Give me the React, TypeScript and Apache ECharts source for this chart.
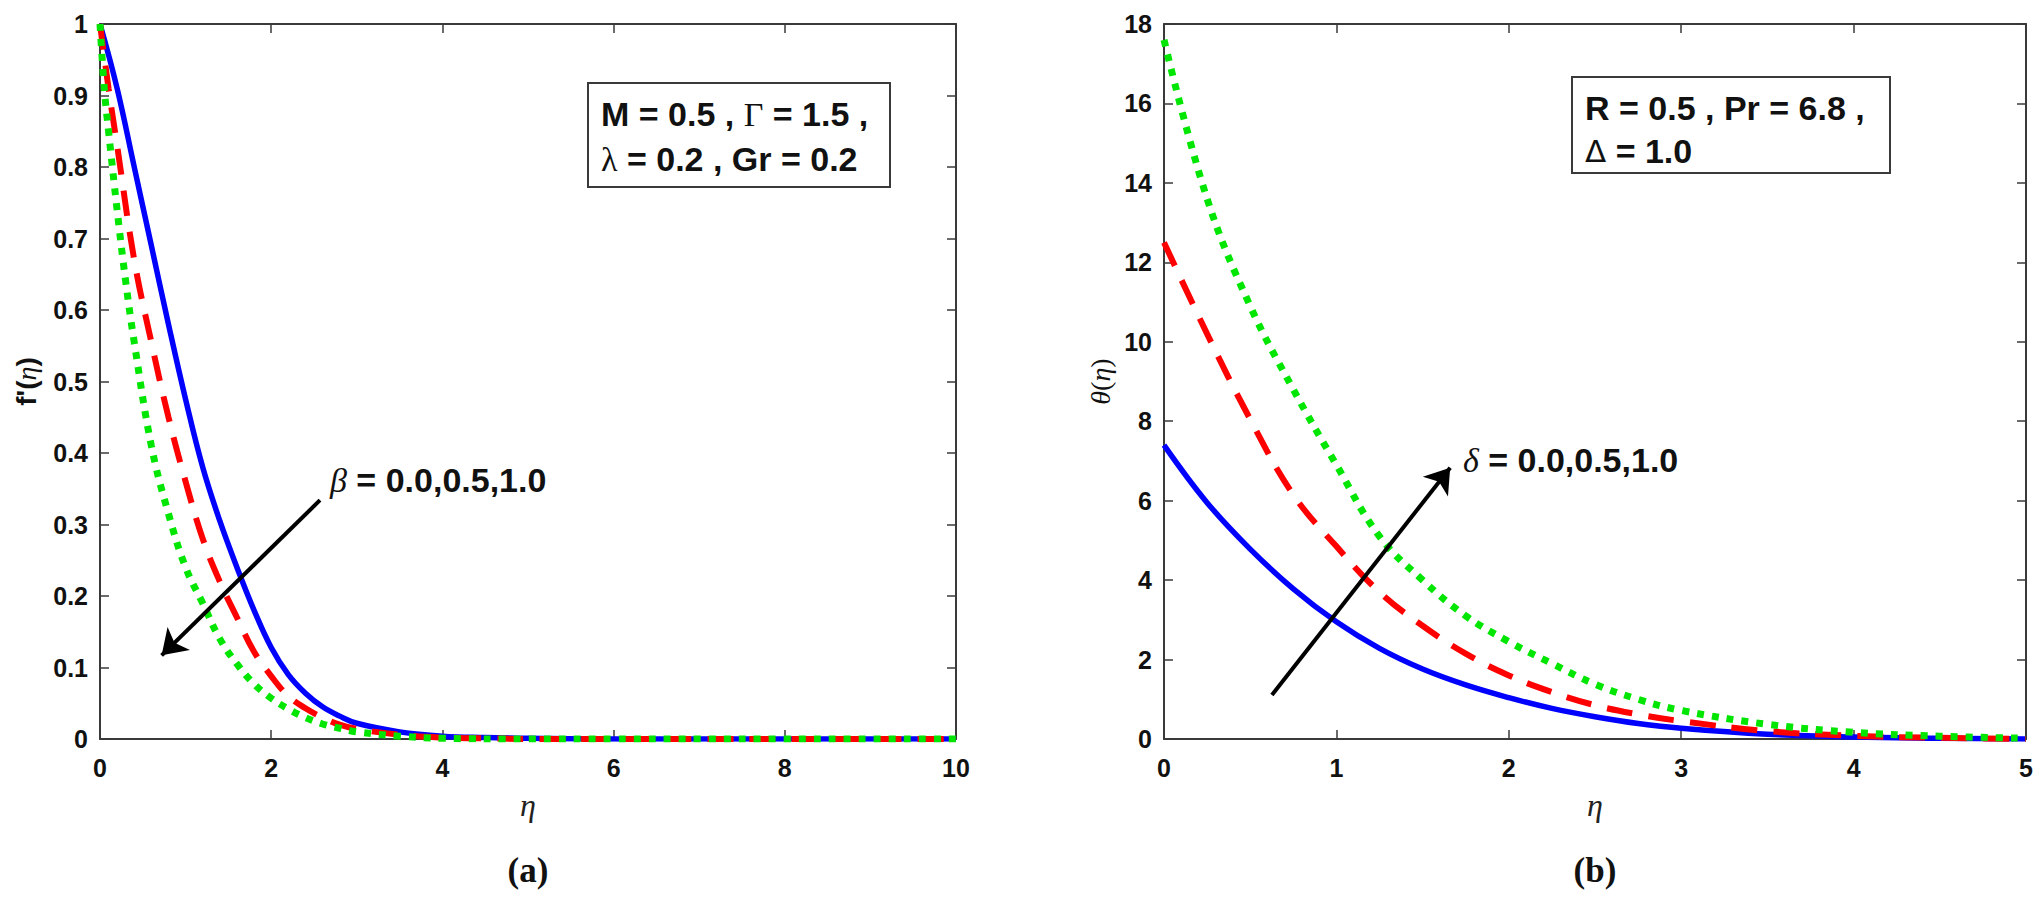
import React, { useEffect, useRef } from "react";
import * as echarts from "echarts";

// ---------- Panel (a): f'(eta) for beta = 0.0, 0.5, 1.0 ----------
const A_X_TICKS = { min: 0, max: 10, interval: 2 };
const A_Y_TICKS = { min: 0, max: 1, interval: 0.1 };

const A_BLUE_ETA = [0, 0.2, 0.4, 0.6, 0.8, 1.0, 1.2, 1.4, 1.6, 1.8, 2.0, 2.2, 2.4, 2.6, 2.8, 3.0, 3.5, 4.0, 4.5, 5.0, 6, 7, 8, 9, 10];
const A_BLUE_F = [1.0, 0.91, 0.8, 0.69, 0.58, 0.475, 0.38, 0.305, 0.24, 0.18, 0.128, 0.09, 0.064, 0.045, 0.032, 0.022, 0.01, 0.004, 0.002, 0.001, 0, 0, 0, 0, 0];

const A_RED_ETA = [0, 0.1, 0.2, 0.4, 0.6, 0.8, 1.0, 1.2, 1.4, 1.6, 1.8, 2.0, 2.2, 2.4, 2.6, 2.8, 3.0, 3.5, 4.0, 4.5, 5.0, 6, 7, 8, 9, 10];
const A_RED_F = [1.0, 0.91, 0.83, 0.67, 0.555, 0.45, 0.36, 0.28, 0.22, 0.17, 0.122, 0.088, 0.06, 0.043, 0.03, 0.02, 0.014, 0.006, 0.002, 0.001, 0, 0, 0, 0, 0, 0];

const A_GREEN_ETA = [0, 0.05, 0.1, 0.2, 0.3, 0.4, 0.6, 0.8, 1.0, 1.2, 1.4, 1.6, 1.8, 2.0, 2.2, 2.4, 2.6, 2.8, 3.0, 3.5, 4.0, 5.0, 6, 7, 8, 9, 10];
const A_GREEN_F = [1.0, 0.91, 0.85, 0.74, 0.64, 0.555, 0.41, 0.315, 0.24, 0.19, 0.14, 0.105, 0.077, 0.057, 0.042, 0.03, 0.021, 0.015, 0.01, 0.004, 0.001, 0, 0, 0, 0, 0, 0];

const A_ARROW = [[2.57, 0.334], [0.72, 0.117]];

// ---------- Panel (b): theta(eta) for delta = 0.0, 0.5, 1.0 ----------
const B_X_TICKS = { min: 0, max: 5, interval: 1 };
const B_Y_TICKS = { min: 0, max: 18, interval: 2 };

const B_ETA = [0, 0.25, 0.5, 0.75, 1.0, 1.25, 1.5, 1.75, 2.0, 2.25, 2.5, 2.75, 3.0, 3.5, 4.0, 4.5, 5.0];
const B_BLUE = [7.4, 5.95, 4.78, 3.78, 2.95, 2.28, 1.76, 1.36, 1.04, 0.77, 0.56, 0.39, 0.27, 0.12, 0.05, 0.02, 0.0];
const B_RED = [12.5, 10.2, 8.05, 6.15, 4.85, 3.7, 2.85, 2.15, 1.6, 1.18, 0.85, 0.62, 0.45, 0.2, 0.08, 0.03, 0.0];
const B_GREEN = [17.6, 13.6, 10.9, 8.8, 6.9, 5.1, 4.0, 3.1, 2.45, 1.9, 1.38, 1.0, 0.72, 0.37, 0.17, 0.07, 0.02];

const B_ARROW = [[0.626, 1.11], [1.66, 6.83]];

const BLUE = "#0000ff";
const RED = "#ff0000";
const GREEN = "#00e600";
const AXIS = "#3a3a3a";
const SANS = "'Liberation Sans', Arial, sans-serif";
const SERIF = "'Liberation Serif', 'Times New Roman', serif";

function zip(xs: number[], ys: number[]) {
  return xs.map((x, i) => [x, ys[i]]);
}

function axisPair(gridIndex: number, ticks: any, dir: "x" | "y", name: any) {
  const common = {
    type: "value",
    gridIndex,
    min: ticks.min,
    max: ticks.max,
    interval: ticks.interval,
    splitLine: { show: false },
    axisLine: { show: true, onZero: false, lineStyle: { color: AXIS, width: 2 } },
    axisTick: { show: true, inside: true, length: 9, lineStyle: { color: AXIS, width: 1.5 } },
  };
  const main: any = {
    ...common,
    position: dir === "x" ? "bottom" : "left",
    axisLabel: {
      show: true,
      color: "#111",
      fontFamily: SANS,
      fontWeight: "bold",
      fontSize: 25,
      margin: dir === "x" ? 16 : 12,
    },
    ...name,
  };
  const opp: any = {
    ...common,
    position: dir === "x" ? "top" : "right",
    axisLabel: { show: false },
  };
  return [main, opp];
}

const legendRich = {
  b: { fontFamily: SANS, fontWeight: "bold", fontSize: 34, fill: "#111" },
  g: { fontFamily: SERIF, fontSize: 34, fill: "#111" },
  i: { fontFamily: SERIF, fontStyle: "italic", fontSize: 34, fill: "#111" },
  d: { fontFamily: "'DejaVu Sans', sans-serif", fontSize: 31, fill: "#111" },
};

export default function App() {
  const ref = useRef<HTMLDivElement>(null);

  useEffect(() => {
    if (!ref.current) return;
    const chart = echarts.init(ref.current, null, { renderer: "svg" });

    const etaName = {
      name: "{i|η}",
      nameLocation: "middle",
      nameGap: 50,
      nameTextStyle: { rich: { i: { fontFamily: SERIF, fontStyle: "italic", fontSize: 32, color: "#222" } } },
    };
    const [ax0, ax0t] = axisPair(0, A_X_TICKS, "x", etaName);
    const [ay0, ay0r] = axisPair(0, A_Y_TICKS, "y", {
      name: "{b|f'(}{i|η}{b|)}",
      nameLocation: "middle",
      nameGap: 60,
      nameTextStyle: {
        rich: {
          b: { fontFamily: SANS, fontWeight: "bold", fontSize: 28, color: "#111" },
          i: { fontFamily: SERIF, fontStyle: "italic", fontSize: 28, color: "#111" },
        },
      },
    });
    const [ax1, ax1t] = axisPair(1, B_X_TICKS, "x", etaName);
    const [ay1, ay1r] = axisPair(1, B_Y_TICKS, "y", {
      name: "{i|θ}{b|(}{i|η}{b|)}",
      nameLocation: "middle",
      nameGap: 50,
      nameTextStyle: {
        rich: {
          b: { fontFamily: SERIF, fontSize: 28, color: "#111" },
          i: { fontFamily: SERIF, fontStyle: "italic", fontSize: 28, color: "#111" },
        },
      },
    });

    const lineSeries = (
      name: string,
      xi: number,
      yi: number,
      data: number[][],
      color: string,
      type: any,
      width: number,
      extra: any = {}
    ) => ({
      name,
      type: "line",
      xAxisIndex: xi,
      yAxisIndex: yi,
      data,
      showSymbol: false,
      symbol: "none",
      smooth: 0.4,
      clip: true,
      lineStyle: { color, width, type, cap: "butt" },
      ...extra,
    });

    const arrowMark = (pts: number[][]) => ({
      markLine: {
        silent: true,
        animation: false,
        symbol: ["none", "arrow"],
        symbolSize: 24,
        label: { show: false },
        lineStyle: { color: "#000", width: 4, type: "solid" },
        data: [[{ coord: pts[0] }, { coord: pts[1] }]],
      },
    });

    const option: any = {
      animation: false,
      backgroundColor: "#ffffff",
      grid: [
        { left: 100, top: 24, width: 856, height: 715 },
        { left: 1164, top: 24, width: 862, height: 715 },
      ],
      xAxis: [ax0, ax0t, ax1, ax1t],
      yAxis: [ay0, ay0r, ay1, ay1r],
      series: [
        lineSeries("β = 0.0", 0, 0, zip(A_BLUE_ETA, A_BLUE_F), BLUE, "solid", 5.5),
        lineSeries("β = 0.5", 0, 0, zip(A_RED_ETA, A_RED_F), RED, [26, 16], 6),
        lineSeries("β = 1.0", 0, 0, zip(A_GREEN_ETA, A_GREEN_F), GREEN, [7, 8], 7, arrowMark(A_ARROW)),
        lineSeries("δ = 0.0", 2, 2, zip(B_ETA, B_BLUE), BLUE, "solid", 5.5),
        lineSeries("δ = 0.5", 2, 2, zip(B_ETA, B_RED), RED, [26, 16], 6),
        lineSeries("δ = 1.0", 2, 2, zip(B_ETA, B_GREEN), GREEN, [7, 8], 7, arrowMark(B_ARROW)),
      ],
      graphic: [
        {
          type: "rect",
          shape: { x: 588, y: 83, width: 302, height: 104 },
          style: { fill: "#fff", stroke: AXIS, lineWidth: 2 },
          z: 100,
        },
        {
          type: "text",
          x: 601,
          y: 114,
          z: 101,
          style: { text: "{b|M = 0.5 , }{g|Γ}{b| = 1.5 ,}", verticalAlign: "middle", rich: legendRich },
        },
        {
          type: "text",
          x: 601,
          y: 159,
          z: 101,
          style: { text: "{g|λ}{b| = 0.2 , Gr = 0.2}", verticalAlign: "middle", rich: legendRich },
        },
        {
          type: "rect",
          shape: { x: 1572, y: 77, width: 318, height: 96 },
          style: { fill: "#fff", stroke: AXIS, lineWidth: 2 },
          z: 100,
        },
        {
          type: "text",
          x: 1585,
          y: 108,
          z: 101,
          style: { text: "{b|R = 0.5 , Pr = 6.8 ,}", verticalAlign: "middle", rich: legendRich },
        },
        {
          type: "text",
          x: 1585,
          y: 151,
          z: 101,
          style: { text: "{d|Δ}{b| = 1.0}", verticalAlign: "middle", rich: legendRich },
        },
        {
          type: "text",
          x: 330,
          y: 480,
          z: 101,
          style: { text: "{i|β}{b| = 0.0,0.5,1.0}", verticalAlign: "middle", rich: legendRich },
        },
        {
          type: "text",
          x: 1463,
          y: 460,
          z: 101,
          style: { text: "{i|δ}{b| = 0.0,0.5,1.0}", verticalAlign: "middle", rich: legendRich },
        },
        {
          type: "text",
          x: 528,
          y: 870,
          style: {
            text: "(a)",
            align: "center",
            verticalAlign: "middle",
            font: "bold 35px " + SERIF,
            fill: "#111",
          },
        },
        {
          type: "text",
          x: 1595,
          y: 870,
          style: {
            text: "(b)",
            align: "center",
            verticalAlign: "middle",
            font: "bold 35px " + SERIF,
            fill: "#111",
          },
        },
      ],
    };

    chart.setOption(option);
    return () => chart.dispose();
  }, []);

  return (
    <div
      ref={ref}
      style={{ position: "absolute", left: 0, top: 0, width: 2042, height: 904, background: "#fff" }}
    />
  );
}
